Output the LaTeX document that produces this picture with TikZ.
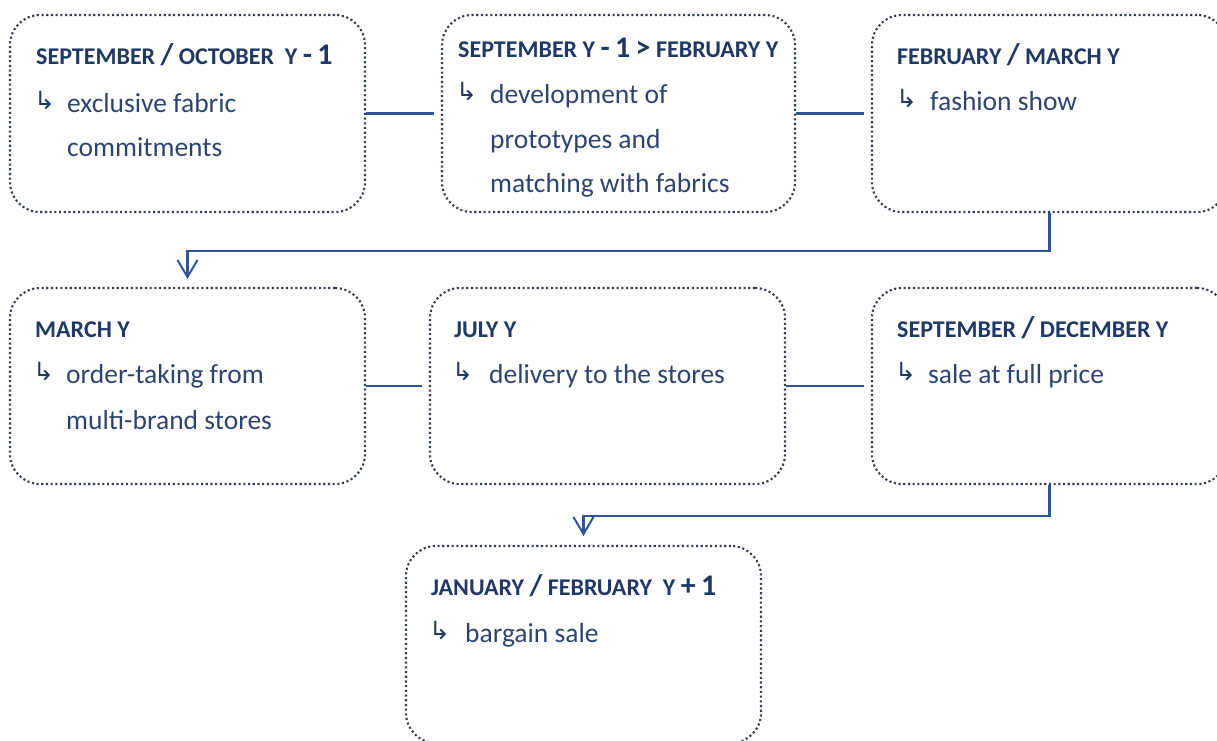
\documentclass[tikz,border=0pt]{standalone}
\usepackage{fontspec}
\setmainfont{Carlito}
\newfontfamily\symf{DejaVu Sans}
\usetikzlibrary{arrows.meta}
\definecolor{navy}{HTML}{1F3864}
\definecolor{bodyc}{HTML}{2E4470}
\definecolor{linec}{HTML}{2F5597}
\definecolor{dotc}{HTML}{333D50}
\newcommand{\bigc}[1]{{\fontsize{30}{30}\selectfont #1}}
\begin{document}
\begin{tikzpicture}[x=1pt,y=-1pt,
  stage/.style={draw=dotc, line width=2.1pt, dash pattern=on 2.1pt off 2.6pt,
    rounded corners=30pt, rectangle, inner sep=0pt, minimum height=197pt},
  hdr/.style={anchor=base west, inner sep=0pt, text=navy, font=\fontsize{24}{24}\selectfont\bfseries},
  bdy/.style={anchor=base west, inner sep=0pt, text=bodyc, font=\fontsize{27.5}{27.5}\selectfont},
  hook/.style={anchor=base west, inner sep=0pt, text=navy, font=\symf\fontsize{25}{25}\selectfont},
  conn/.style={draw=linec, line width=2.5pt},
  down/.style={conn, -{Straight Barb[length=17pt,width=20pt,line width=2pt]}}
]
\useasboundingbox (0,0) rectangle (1217,740);

% boxes
\node[stage, minimum width=355pt] (b1) at (187.5,113.5) {};
\node[stage, minimum width=353pt] (b2) at (618.5,113.5) {};
\node[stage, minimum width=355pt] (b3) at (1049.5,113.5) {};
\node[stage, minimum width=355pt, minimum height=196pt] (b4) at (187.5,386) {};
\node[stage, minimum width=355pt, minimum height=196pt] (b5) at (607.5,386) {};
\node[stage, minimum width=355pt, minimum height=196pt] (b6) at (1049.5,386) {};
\node[stage, minimum width=355pt] (b7) at (583.5,644.5) {};

% connectors
\draw[conn, shorten >=7pt] (b1.east) -- (b2.west);
\draw[conn, shorten >=7pt] (b2.east) -- (b3.west);
\draw[conn, shorten >=7pt] (b4.east) -- (b5.west);
\draw[conn, shorten >=7pt] (b5.east) -- (b6.west);
\draw[down, shorten >=8pt] (b3.south) -- ++(0,38) -| (b4.north);
\draw[down, shorten >=9pt] (b6.south) -- ++(0,31) -| (b7.north);

% box 1
\node[hdr] (h1) at (36,64) {SEPTEMBER \bigc{/} OCTOBER\ \ Y \bigc{-} \bigc{1}};
\node[hook] (k1) at (34,109) {↳};
\node[bdy] (t1a) at (67,112) {exclusive fabric};
\node[bdy] (t1b) at (67,156) {commitments};
% box 2
\node[hdr] (h2) at (458,57) {SEPTEMBER Y \bigc{-} \bigc{1} \bigc{>} FEBRUARY Y};
\node[hook] (k2) at (456,100) {↳};
\node[bdy] (t2a) at (490,103) {development of};
\node[bdy] (t2b) at (490,148) {prototypes and};
\node[bdy] (t2c) at (490,192) {matching with fabrics};
% box 3
\node[hdr] (h3) at (897,64) {FEBRUARY \bigc{/} MARCH Y};
\node[hook] (k3) at (896,107) {↳};
\node[bdy] (t3) at (930,110) {fashion show};
% box 4
\node[hdr] (h4) at (35,337) {MARCH Y};
\node[hook] (k4) at (33,380) {↳};
\node[bdy] (t4a) at (66,383) {order-taking from};
\node[bdy] (t4b) at (66,429) {multi-brand stores};
% box 5
\node[hdr] (h5) at (454,337) {JULY Y};
\node[hook] (k5) at (452,380) {↳};
\node[bdy] (t5) at (489,383) {delivery to the stores};
% box 6
\node[hdr] (h6) at (897,337) {SEPTEMBER \bigc{/} DECEMBER Y};
\node[hook] (k6) at (895,380) {↳};
\node[bdy] (t6) at (928,383) {sale at full price};
% box 7
\node[hdr] (h7) at (431,595) {JANUARY \bigc{/} FEBRUARY\ \ Y \bigc{+} \bigc{1}};
\node[hook] (k7) at (429,639) {↳};
\node[bdy] (t7) at (465,642) {bargain sale};
\end{tikzpicture}
\end{document}
